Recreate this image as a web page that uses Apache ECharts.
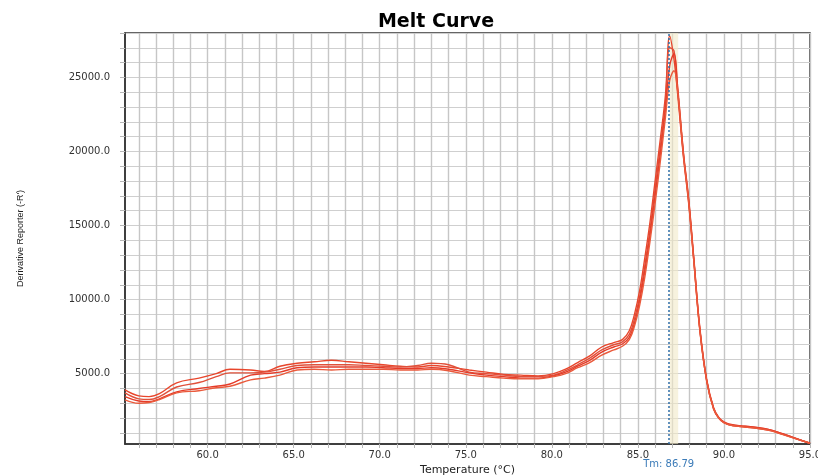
<!DOCTYPE html>
<html>
<head>
<meta charset="utf-8">
<script src="https://cdn.jsdelivr.net/npm/echarts@6/dist/echarts.min.js"></script>
<style>html,body{margin:0;padding:0;background:#fff}#c{width:818px;height:475px}</style>
</head>
<body>
<div id="c"></div>
<script>
// Temperatures (°C) shared by all wells
const temps = [55.2, 56.0, 56.6, 57.2, 58.2, 59.5, 60.5, 61.3, 62.5, 63.3, 64.2, 65.2, 66.2, 67.2, 68.2, 69.2, 70.2, 71.2, 72.2, 73.0, 74.0, 75.2, 76.2, 77.2, 78.2, 79.2, 80.1, 80.8, 81.5, 82.2, 82.9, 83.6, 84.1, 84.5, 84.8, 85.1, 85.4, 85.7, 86.0, 86.3, 86.6, 86.85, 87.1, 87.3, 87.65, 87.95, 88.25, 88.6, 89.0, 89.4, 89.7, 90.0, 90.5, 91.2, 92.0, 92.7, 93.4, 94.2, 95.0];

// Derivative reporter (-R') per well
const well1 = [3900, 3500, 3450, 3650, 4380, 4700, 5000, 5300, 5250, 5150, 5500, 5700, 5800, 5900, 5800, 5700, 5600, 5500, 5450, 5550, 5450, 5250, 5100, 4950, 4900, 4850, 5000, 5300, 5750, 6200, 6800, 7100, 7300, 7900, 9000, 10600, 12800, 15200, 18000, 20800, 23800, 27800, 26200, 24000, 19600, 16500, 12600, 7900, 4500, 2600, 2000, 1700, 1500, 1400, 1300, 1150, 900, 600, 300];
const well2 = [3700, 3300, 3250, 3450, 4100, 4400, 4800, 5050, 5050, 5100, 5300, 5550, 5600, 5600, 5600, 5550, 5500, 5450, 5550, 5700, 5600, 5100, 5000, 4900, 4800, 4800, 4900, 5200, 5600, 6050, 6600, 6950, 7150, 7650, 8700, 10200, 12300, 14700, 17500, 20300, 23300, 27000, 26800, 24300, 19800, 16700, 12700, 8000, 4500, 2650, 2000, 1700, 1500, 1450, 1350, 1200, 950, 620, 300];
const well3 = [3450, 3150, 3100, 3300, 3770, 4000, 4150, 4300, 4900, 5000, 5100, 5400, 5450, 5450, 5450, 5450, 5400, 5350, 5350, 5400, 5300, 5050, 4900, 4800, 4700, 4700, 4850, 5100, 5500, 5900, 6450, 6800, 7000, 7450, 8400, 9900, 11900, 14300, 17000, 19800, 22800, 25800, 26600, 24500, 19900, 16800, 12800, 8100, 4600, 2700, 2050, 1750, 1550, 1450, 1350, 1200, 950, 620, 300];
const well4 = [3230, 3000, 3050, 3250, 3700, 3850, 4050, 4150, 4580, 4700, 4900, 5250, 5300, 5250, 5300, 5300, 5300, 5250, 5250, 5300, 5200, 4900, 4800, 4700, 4650, 4650, 4800, 5000, 5400, 5750, 6250, 6600, 6850, 7300, 8200, 9600, 11500, 13900, 16500, 19300, 22300, 24800, 25450, 24200, 19700, 16600, 12600, 7950, 4500, 2650, 2000, 1700, 1500, 1400, 1300, 1150, 900, 600, 300];
const wells = [well1, well2, well3, well4];

// Axis ticks and labels
const xTicks = [56,57,58,59,60,61,62,63,64,65,66,67,68,69,70,71,72,73,74,75,76,77,78,79,80,81,82,83,84,85,86,87,88,89,90,91,92,93,94,95];
const xLabels = [60, 65, 70, 75, 80, 85, 90, 95];
const yTicks = [1000,2000,3000,4000,5000,6000,7000,8000,9000,10000,11000,12000,13000,14000,15000,16000,17000,18000,19000,20000,21000,22000,23000,24000,25000,26000,27000,28000];
const yLabels = [5000, 10000, 15000, 20000, 25000];
const tm = 86.79;

const chart = echarts.init(document.getElementById('c'), null, {renderer: 'canvas'});
const lineColors = ['#e8462c', '#e0503a', '#e53b28', '#ea5a3c'];

const series = wells.map((w, i) => ({
  type: 'line',
  data: temps.map((t, k) => [t, w[k]]),
  smooth: 0.4,
  showSymbol: false,
  symbol: 'none',
  lineStyle: {color: lineColors[i], width: 1.4},
  z: 3
}));
series[0].markLine = {
  silent: true,
  symbol: 'none',
  lineStyle: {color: '#2f6ea8', type: [2, 2], width: 1.5},
  label: {
    show: true, position: 'start', distance: 15,
    formatter: 'Tm: ' + tm.toFixed(2),
    color: '#3b7bb8', fontSize: 10, fontFamily: 'DejaVu Sans'
  },
  data: [{xAxis: tm}]
};
series[0].markArea = {
  silent: true,
  itemStyle: {color: 'rgba(242,234,200,0.6)'},
  data: [[{xAxis: tm + 0.05}, {xAxis: tm + 0.55}]]
};

chart.setOption({
  animation: false,
  backgroundColor: '#fff',
  title: {
    text: 'Melt Curve',
    left: 431, top: 8, textAlign: 'center',
    textStyle: {fontFamily: 'DejaVu Sans', fontWeight: 'bold', fontSize: 19, color: '#000'}
  },
  grid: {
    left: 125, right: 8, top: 33, bottom: 31,
    outerBoundsMode: 'none', containLabel: false,
    show: true, borderColor: '#333', borderWidth: 1.5, backgroundColor: '#fff'
  },
  xAxis: {
    type: 'value', min: 55.2, max: 95,
    name: 'Temperature (°C)', nameLocation: 'middle', nameGap: 21,
    nameTextStyle: {fontFamily: 'DejaVu Sans', fontSize: 11, color: '#222'},
    axisLine: {show: true, lineStyle: {color: '#333', width: 1.5}},
    axisTick: {show: true, customValues: xTicks, length: 4, lineStyle: {color: '#b8b8b8'}},
    axisLabel: {customValues: xLabels, formatter: v => v.toFixed(1), fontFamily: 'DejaVu Sans', fontSize: 10, color: '#333', margin: 6},
    splitLine: {show: true, lineStyle: {color: '#c6c6c6', width: 1.4}}
  },
  yAxis: {
    type: 'value', min: 250, max: 28000,
    name: "Derivative Reporter (-R')", nameLocation: 'middle', nameGap: 100, nameRotate: 90,
    nameTextStyle: {fontFamily: 'Liberation Sans', fontSize: 9, color: '#222'},
    axisLine: {show: true, lineStyle: {color: '#333', width: 1.5}},
    axisTick: {show: true, customValues: yTicks, length: 5, lineStyle: {color: '#b8b8b8'}},
    axisLabel: {customValues: yLabels, formatter: v => v.toFixed(1), fontFamily: 'DejaVu Sans', fontSize: 10, color: '#333', margin: 15},
    splitLine: {show: true, lineStyle: {color: '#cfcfcf', width: 1}}
  },
  series: series
});
</script>
</body>
</html>
